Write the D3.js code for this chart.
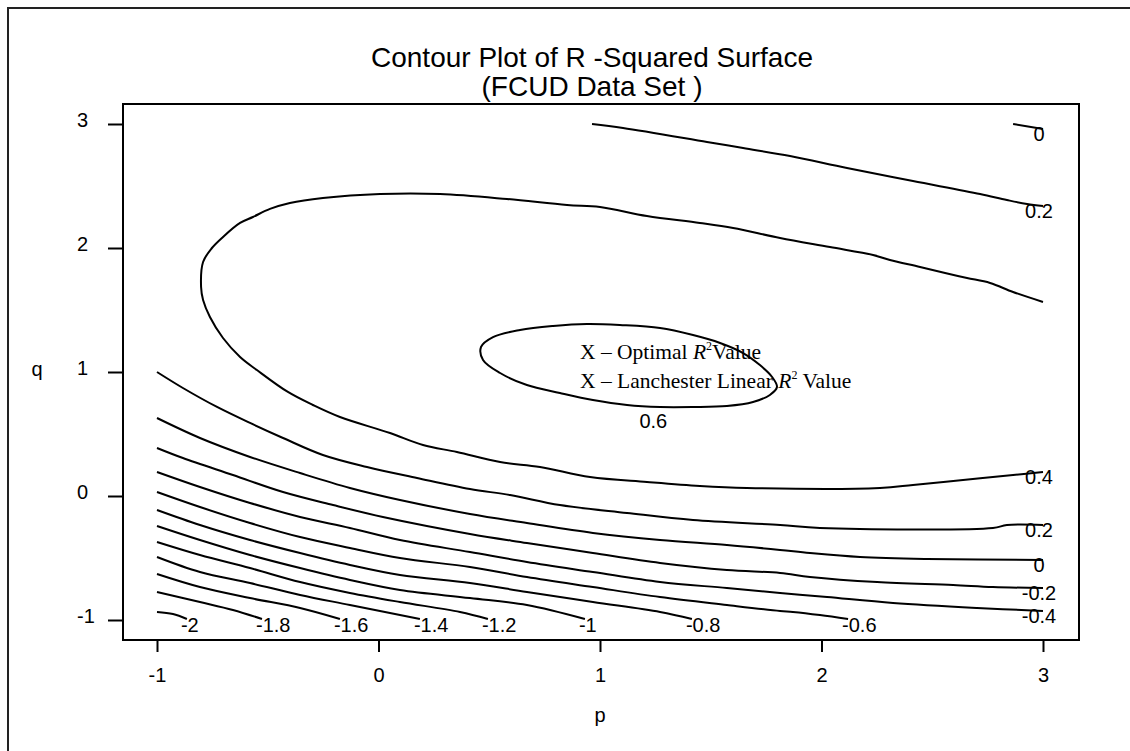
<!DOCTYPE html>
<html>
    <head>
<meta charset="utf-8">
<script src="https://d3js.org/d3.v7.min.js"></script>

<style>
	body, html {
		margin: 0;
		padding: 0;
		background: #fff;
	}
	text {
		font-family: "Liberation Sans", Arial, Helvetica, sans-serif;
		fill: #000;
	}
	.title {
		font-size: 28px;
		text-anchor: middle;
	}
	.axis-label {
		font-size: 20px;
	}
	.tick text {
		font-size: 20px;
	}
	.tick line {
		stroke: #000;
		stroke-width: 2;
	}
	.contour {
		fill: none;
		stroke: #000;
		stroke-width: 2;
		stroke-linejoin: round;
	}
	.contour-label {
		font-size: 20px;
	}
	.note text {
		font-family: "Liberation Serif", "Times New Roman", serif;
		font-size: 21.5px;
	}
</style>
</head>
<body>
<script>

	// titles and axis labels
	var titleLines = ["Contour Plot of R -Squared Surface", "(FCUD Data Set )"];
	var xTitle = "p";
	var yTitle = "q";

	// tick values
	var pTicks = [-1, 0, 1, 2, 3];
	var qTicks = [-1, 0, 1, 2, 3];

	// contour levels, one per line below
	var levels = ["0", "0.2", "0.4", "0.6", "0.2", "0", "-0.2", "-0.4", "-0.6", "-0.8", "-1", "-1.2", "-1.4", "-1.6", "-1.8", "-2"];

	// contour lines as [p, q] points
	var lineTop0 = [[2.865, 3.0], [3.0, 2.960]];

	var lineTop02 = [[0.964, 3.0], [1.104, 2.968], [1.483, 2.855], [1.646, 2.806], [1.858, 2.742],
		[2.115, 2.645], [2.413, 2.540], [2.716, 2.435], [2.837, 2.387], [2.928, 2.355], [3.0, 2.339]];

	var line04 = [[3.0, 1.565], [2.865, 1.645], [2.761, 1.718], [2.657, 1.758], [2.558, 1.798],
		[2.445, 1.847], [2.309, 1.903], [2.233, 1.944], [2.038, 2.008], [1.813, 2.081], [1.601, 2.161],
		[1.451, 2.202], [1.212, 2.258], [1.0, 2.331], [0.851, 2.347], [0.580, 2.395], [0.278, 2.435],
		[0.007, 2.435], [-0.251, 2.403], [-0.400, 2.363], [-0.490, 2.315], [-0.567, 2.250], [-0.625, 2.202],
		[-0.702, 2.089], [-0.752, 2.0], [-0.792, 1.887], [-0.801, 1.685], [-0.792, 1.581], [-0.761, 1.444],
		[-0.702, 1.274], [-0.625, 1.121], [-0.549, 1.016], [-0.409, 0.839], [-0.296, 0.734], [-0.174, 0.637],
		[0.052, 0.508], [0.201, 0.411], [0.354, 0.355], [0.549, 0.274], [0.729, 0.234], [0.955, 0.153],
		[1.212, 0.113], [1.451, 0.081], [1.663, 0.065], [2.264, 0.065], [2.413, 0.089], [2.639, 0.129],
		[2.865, 0.169], [3.0, 0.194]];

	var line06 = [[0.463, 1.202], [0.517, 1.282], [0.639, 1.339], [0.788, 1.371], [0.941, 1.387],
		[1.090, 1.379], [1.271, 1.355], [1.420, 1.298], [1.542, 1.234], [1.646, 1.153], [1.722, 1.056],
		[1.777, 0.960], [1.799, 0.879], [1.767, 0.815], [1.691, 0.758], [1.573, 0.726], [1.420, 0.718],
		[1.271, 0.718], [1.122, 0.734], [0.968, 0.774], [0.819, 0.831], [0.670, 0.895], [0.549, 0.992],
		[0.472, 1.097]];

	var line02 = [[-1, 1.0], [-0.883, 0.871], [-0.729, 0.718], [-0.580, 0.589], [-0.431, 0.468],
		[-0.251, 0.331], [-0.052, 0.234], [0.174, 0.145], [0.413, 0.056], [0.594, 0.008], [0.819, -0.073],
		[1.122, -0.137], [1.420, -0.194], [1.813, -0.234], [1.993, -0.258], [2.774, -0.258], [2.837, -0.234],
		[3.0, -0.234]];

	var line0 = [[-1, 0.629], [-0.806, 0.468], [-0.580, 0.315], [-0.354, 0.185], [-0.129, 0.065],
		[0.097, -0.032], [0.413, -0.145], [0.670, -0.218], [0.968, -0.298], [1.271, -0.355], [1.573, -0.395],
		[1.813, -0.435], [1.948, -0.460], [2.174, -0.492], [2.476, -0.508], [3.0, -0.516]];

	var lineM02 = [[-1, 0.387], [-0.883, 0.306], [-0.657, 0.169], [-0.431, 0.032], [-0.205, -0.073],
		[0.020, -0.169], [0.413, -0.306], [0.670, -0.379], [0.968, -0.460], [1.271, -0.540], [1.573, -0.597],
		[1.813, -0.621], [1.948, -0.653], [2.251, -0.694], [2.594, -0.718], [2.774, -0.734], [3.0, -0.742]];

	var lineM04 = [[-1, 0.194], [-0.806, 0.073], [-0.580, -0.056], [-0.354, -0.169], [-0.129, -0.258],
		[0.097, -0.355], [0.413, -0.452], [0.670, -0.532], [0.968, -0.613], [1.271, -0.694], [1.573, -0.742],
		[1.813, -0.782], [2.025, -0.815], [2.323, -0.863], [2.702, -0.903], [3.0, -0.927]];

	var lineM06 = [[-1, 0.032], [-0.806, -0.089], [-0.580, -0.218], [-0.354, -0.331], [-0.129, -0.419],
		[0.097, -0.500], [0.413, -0.573], [0.670, -0.653], [0.968, -0.734], [1.271, -0.815], [1.573, -0.879],
		[1.813, -0.927], [1.871, -0.935], [1.993, -0.960], [2.120, -0.992]];

	var lineM08 = [[-1, -0.113], [-0.806, -0.234], [-0.580, -0.355], [-0.354, -0.460], [-0.129, -0.556],
		[0.097, -0.637], [0.413, -0.702], [0.670, -0.774], [0.968, -0.855], [1.271, -0.935], [1.415, -0.992]];

	var lineM10 = [[-1, -0.242], [-0.806, -0.355], [-0.580, -0.476], [-0.354, -0.581], [-0.129, -0.677],
		[0.097, -0.758], [0.413, -0.823], [0.670, -0.879], [0.932, -0.992]];

	var lineM12 = [[-1, -0.371], [-0.806, -0.476], [-0.580, -0.581], [-0.354, -0.694], [-0.129, -0.782],
		[0.097, -0.855], [0.368, -0.935], [0.494, -0.992]];

	var lineM14 = [[-1, -0.492], [-0.806, -0.613], [-0.580, -0.702], [-0.354, -0.798], [-0.129, -0.879],
		[0.187, -0.992]];

	var lineM16 = [[-1, -0.629], [-0.806, -0.734], [-0.580, -0.823], [-0.354, -0.903], [-0.174, -0.992]];

	var lineM18 = [[-1, -0.774], [-0.806, -0.855], [-0.657, -0.919], [-0.526, -0.992]];

	var lineM20 = [[-1, -0.935], [-0.928, -0.952], [-0.865, -0.992]];

	var contourLines = [lineTop0, lineTop02, line04, line06, line02, line0, lineM02, lineM04,
		lineM06, lineM08, lineM10, lineM12, lineM14, lineM16, lineM18, lineM20];

	var w = 1130;
	var h = 751;
	var frame = {left: 123, top: 104, right: 1079, bottom: 640};

	var x = d3.scaleLinear()
				.domain([-1, 3])
				.range([157, 1043]);

	var y = d3.scaleLinear()
				.domain([-1, 3])
				.range([620, 124]);

	var svg = d3.select("body").append("svg")
				.attr("width", w)
				.attr("height", h);

	// outer page border (runs off the right and bottom)
	svg.append("path")
		.attr("d", "M8," + (h + 10) + "V8H" + (w + 10))
		.attr("fill", "none")
		.attr("stroke", "#222")
		.attr("stroke-width", 2);

	svg.selectAll(".title")
		.data(titleLines)
		.enter()
			.append("text")
			.attr("class", "title")
			.attr("x", 592)
			.attr("y", function(d, i){ return 67 + i * 29; })
			.text(function(d){ return d; });

	// axes
	var plainNum = function(d){ return String(d); };

	var xAxis = d3.axisBottom(x)
				.tickValues(pTicks)
				.tickSize(12)
				.tickPadding(18)
				.tickFormat(plainNum);

	var yAxis = d3.axisLeft(y)
				.tickValues(qTicks)
				.tickSize(15)
				.tickFormat(plainNum);

	svg.append("g")
		.attr("transform", "translate(0," + frame.bottom + ")")
		.call(xAxis)
		.call(function(g){ g.select(".domain").remove(); })
		.selectAll("text")
			.attr("dy", "0.6em")
			.attr("font-size", null)
			.attr("font-family", null);

	svg.append("g")
		.attr("transform", "translate(" + frame.left + ",0)")
		.call(yAxis)
		.call(function(g){ g.select(".domain").remove(); })
		.selectAll("text")
			.attr("text-anchor", "start")
			.attr("x", -46)
			.attr("dy", "0.1em")
			.attr("font-size", null)
			.attr("font-family", null);

	svg.append("rect")
		.attr("x", frame.left)
		.attr("y", frame.top)
		.attr("width", frame.right - frame.left)
		.attr("height", frame.bottom - frame.top)
		.attr("fill", "none")
		.attr("stroke", "#000")
		.attr("stroke-width", 2);

	svg.append("text")
		.attr("class", "axis-label")
		.attr("x", 600)
		.attr("y", 722)
		.attr("text-anchor", "middle")
		.text(xTitle);

	svg.append("text")
		.attr("class", "axis-label")
		.attr("x", 37)
		.attr("y", 376)
		.attr("text-anchor", "middle")
		.text(yTitle);

	// contour lines
	var openLine = d3.line()
				.x(function(d){ return x(d[0]); })
				.y(function(d){ return y(d[1]); })
				.curve(d3.curveCatmullRom);

	var closedLine = d3.line()
				.x(function(d){ return x(d[0]); })
				.y(function(d){ return y(d[1]); })
				.curve(d3.curveCatmullRomClosed);

	function isClosed(pts){
		var a = pts[0], b = pts[pts.length - 1];
		return a[0] > -1 && b[0] < 3 && a[1] < 3 && b[1] > -0.99;
	}

	var plot = svg.append("g").attr("class", "contours");

	plot.selectAll(".contour")
		.data(contourLines)
		.enter()
			.append("path")
			.attr("class", "contour")
			.attr("d", function(d){ return isClosed(d) ? closedLine(d) : openLine(d); });

	// level labels at the end of each line
	plot.selectAll(".contour-label")
		.data(contourLines)
		.enter()
			.append("text")
			.attr("class", "contour-label")
			.attr("text-anchor", function(d){
				var end = d[d.length - 1];
				return (isClosed(d) || end[0] >= 3) ? "middle" : "start";
			})
			.attr("x", function(d){
				var end = d[d.length - 1];
				if(isClosed(d)){
					return d3.mean(d, function(p){ return x(p[0]); }) + 17;
				}
				if(end[0] >= 3){
					return x(end[0]) - 4;
				}
				return x(end[0]) - 6;
			})
			.attr("y", function(d){
				var end = d[d.length - 1];
				if(isClosed(d)){
					return y(d3.min(d, function(p){ return p[1]; })) + 21;
				}
				if(end[0] >= 3){
					return y(end[1]) + 12;
				}
				return y(-1) + 12;
			})
			.text(function(d, i){ return levels[i]; });

	// annotation inside the 0.6 contour
	var note = svg.append("g").attr("class", "note");

	var note1 = note.append("text")
				.attr("x", x(0.91))
				.attr("y", y(1.105));
	note1.append("tspan").text("X \u2013 Optimal ");
	note1.append("tspan").attr("font-style", "italic").text("R");
	note1.append("tspan").attr("font-size", 12).attr("dy", -9).text("2");
	note1.append("tspan").attr("dy", 9).text("Value");

	var note2 = note.append("text")
				.attr("x", x(0.91))
				.attr("y", y(0.87));
	note2.append("tspan").text("X \u2013 Lanchester Linear ");
	note2.append("tspan").attr("font-style", "italic").text("R");
	note2.append("tspan").attr("font-size", 12).attr("dy", -9).text("2");
	note2.append("tspan").attr("dy", 9).text("  Value");

</script>
</body>
</html>
